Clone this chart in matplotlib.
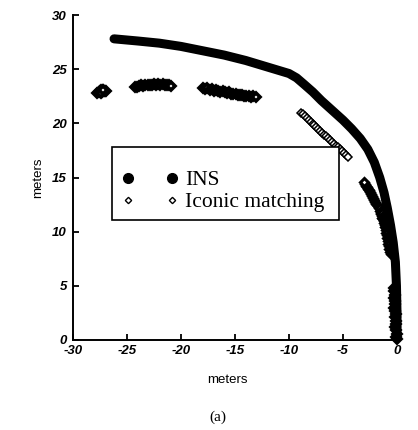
import matplotlib
matplotlib.use("Agg")
import matplotlib.pyplot as plt
from matplotlib.lines import Line2D
from matplotlib.patches import Rectangle

plt.rcParams["axes.unicode_minus"] = False

# INS trajectory (meters)
ins_x = [-26.2, -24.0, -22.0, -20.0, -18.0, -16.0, -14.0, -12.0, -11.0, -10.0,
         -9.3, -8.6, -7.8, -7.0, -6.0, -5.0, -4.2, -3.4, -2.7, -2.1,
         -1.6, -1.2, -0.9, -0.6, -0.35, -0.15, -0.05, 0.0, 0.0]
ins_y = [27.8, 27.6, 27.4, 27.1, 26.7, 26.3, 25.8, 25.2, 24.9, 24.6,
         24.2, 23.6, 22.9, 22.1, 21.2, 20.3, 19.5, 18.6, 17.6, 16.4,
         15.0, 13.6, 12.2, 10.6, 9.0, 7.2, 5.0, 2.5, 0.2]

# Iconic matching position fixes, one list pair per run of fixes
icon1_x = [-27.75, -27.6, -27.5, -27.4, -27.3, -27.2, -27.1, -27.0, -26.9, -27.45, -27.25]
icon1_y = [22.8, 22.85, 22.95, 23.05, 22.9, 23.05, 22.95, 22.95, 23.0, 22.8, 23.1]

icon2_x = [-24.3, -24.1, -23.9, -23.7, -23.5, -23.3, -23.1, -22.9, -22.7, -22.5,
           -22.3, -22.1, -21.9, -21.7, -21.5, -21.3, -21.1, -20.9]
icon2_y = [23.35, 23.4, 23.45, 23.5, 23.45, 23.5, 23.55, 23.5, 23.55, 23.6,
           23.55, 23.6, 23.55, 23.6, 23.5, 23.55, 23.5, 23.45]

icon3_x = [-17.95, -17.75, -17.55, -17.35, -17.15, -16.95, -16.75, -16.55, -16.35, -16.15,
           -15.95, -15.75, -15.55, -15.35, -15.15, -14.95, -14.75, -14.55, -14.35, -14.15,
           -13.95, -13.75, -13.55, -13.35, -13.1]
icon3_y = [23.3, 23.2, 23.25, 23.1, 23.15, 23.0, 23.05, 22.95, 22.9, 22.95,
           22.85, 22.8, 22.85, 22.75, 22.7, 22.75, 22.65, 22.6, 22.65, 22.55,
           22.5, 22.55, 22.45, 22.5, 22.45]

icon4_x = [-8.9, -8.72, -8.54, -8.36, -8.18, -8.0, -7.82, -7.64, -7.46, -7.28,
           -7.1, -6.92, -6.74, -6.56, -6.38, -6.2, -6.02, -5.84, -5.66, -5.48,
           -5.3, -5.12, -4.94, -4.76, -4.55]
icon4_y = [21.0, 20.83, 20.66, 20.49, 20.32, 20.15, 19.98, 19.81, 19.64, 19.47,
           19.3, 19.13, 18.96, 18.79, 18.62, 18.45, 18.28, 18.11, 17.94, 17.77,
           17.6, 17.43, 17.26, 17.09, 16.9]

icon5_x = [-0.6, -0.65, -0.7, -0.75, -0.8, -0.85, -0.9, -0.95, -1.0, -1.05,
           -1.1, -1.15, -1.2, -1.25, -1.3, -1.35, -1.4, -1.45, -1.5, -1.6,
           -1.7, -1.8, -1.9, -2.0, -2.1, -2.2, -2.3, -2.4, -2.5, -2.6,
           -2.7, -2.8, -2.9, -3.0, -3.1]
icon5_y = [7.9, 8.15, 8.4, 8.65, 8.9, 9.15, 9.4, 9.65, 9.9, 10.15,
           10.4, 10.6, 10.8, 11.0, 11.15, 11.3, 11.45, 11.6, 11.75, 11.95,
           12.15, 12.35, 12.55, 12.75, 12.95, 13.15, 13.3, 13.5, 13.65, 13.8,
           13.95, 14.1, 14.25, 14.4, 14.6]

icon6_x = [-0.3, -0.25, -0.2, -0.3, -0.2, -0.15, -0.25, -0.15, -0.1, -0.2,
           -0.1, -0.05, -0.15, -0.05, 0.0, -0.1, 0.0]
icon6_y = [4.8, 4.5, 4.2, 3.9, 3.6, 3.3, 3.0, 2.7, 2.4, 2.1,
           1.8, 1.5, 1.2, 0.9, 0.6, 0.3, 0.05]

# (x, y, marker size, edge width) for each run
icon_runs = [
    (icon1_x, icon1_y, 4.5, 2.6),
    (icon2_x, icon2_y, 4.5, 2.6),
    (icon3_x, icon3_y, 4.5, 2.6),
    (icon4_x, icon4_y, 4.0, 1.1),
    (icon5_x, icon5_y, 3.8, 2.2),
    (icon6_x, icon6_y, 4.5, 2.6),
]

tick_vals = [0, 5, 10, 15, 20, 25, 30]
xtick_vals = [-30, -25, -20, -15, -10, -5, 0]

fig = plt.figure(figsize=(4.18, 4.30), dpi=100)
ax = fig.add_axes([73 / 418, 1 - 340 / 430, 324 / 418, 325 / 430])

for xs, ys, size, edge in icon_runs:
    ax.plot(xs, ys, ls="none", marker="D", ms=size, mfc="white", mec="black",
            mew=edge, clip_on=False, zorder=2)

ax.plot(ins_x, ins_y, color="black", lw=6.5, solid_capstyle="round",
        solid_joinstyle="round", clip_on=False, zorder=3)

ax.set_xlim(-30, 0)
ax.set_ylim(0, 30)
ax.set_xticks(xtick_vals)
ax.set_yticks(tick_vals)
ax.set_xticklabels([str(v) for v in xtick_vals])
ax.set_yticklabels([str(v) for v in tick_vals])

for side in ("top", "right"):
    ax.spines[side].set_visible(False)
for side in ("left", "bottom"):
    ax.spines[side].set_linewidth(1.4)

ax.tick_params(axis="both", direction="in", length=4, width=1.3)
ax.tick_params(axis="y", pad=4.5)
ax.tick_params(axis="x", pad=3.5)
for lab in ax.get_xticklabels() + ax.get_yticklabels():
    lab.set_fontfamily("Liberation Sans")
    lab.set_fontweight("bold")
    lab.set_fontstyle("italic")
    lab.set_fontsize(9.5)

fig.text(38 / 418, 1 - 178 / 430, "meters", rotation=90, ha="center", va="center",
         fontsize=9.5, family="Liberation Sans")
fig.text(227 / 418, 1 - 380 / 430, "meters", ha="center", va="center",
         fontsize=9.5, family="Liberation Sans")
fig.text(218 / 418, 1 - 417 / 430, "(a)", ha="center", va="center",
         fontsize=11, family="Liberation Serif")

# legend frame drawn as a plain box, entries placed inside it
ax.add_patch(Rectangle((0.1204, 0.3692), 0.7006, 0.2246, transform=ax.transAxes,
                       facecolor="white", edgecolor="black", lw=1.2, zorder=4))
handles = [
    Line2D([], [], ls="none", marker="o", ms=7, color="black"),
    Line2D([], [], ls="none", marker="D", ms=3.2, mfc="white", mec="black", mew=1.0),
]
leg = ax.legend(handles, ["INS", "Iconic matching"], loc="upper left",
                bbox_to_anchor=(0.150, 0.523), borderaxespad=0, numpoints=2,
                handlelength=2.65, handletextpad=0.3, borderpad=0.0,
                labelspacing=0.09, frameon=False,
                prop={"family": "Liberation Serif", "size": 15.5})
leg.set_zorder(5)

fig.savefig("out.png", dpi=100)
